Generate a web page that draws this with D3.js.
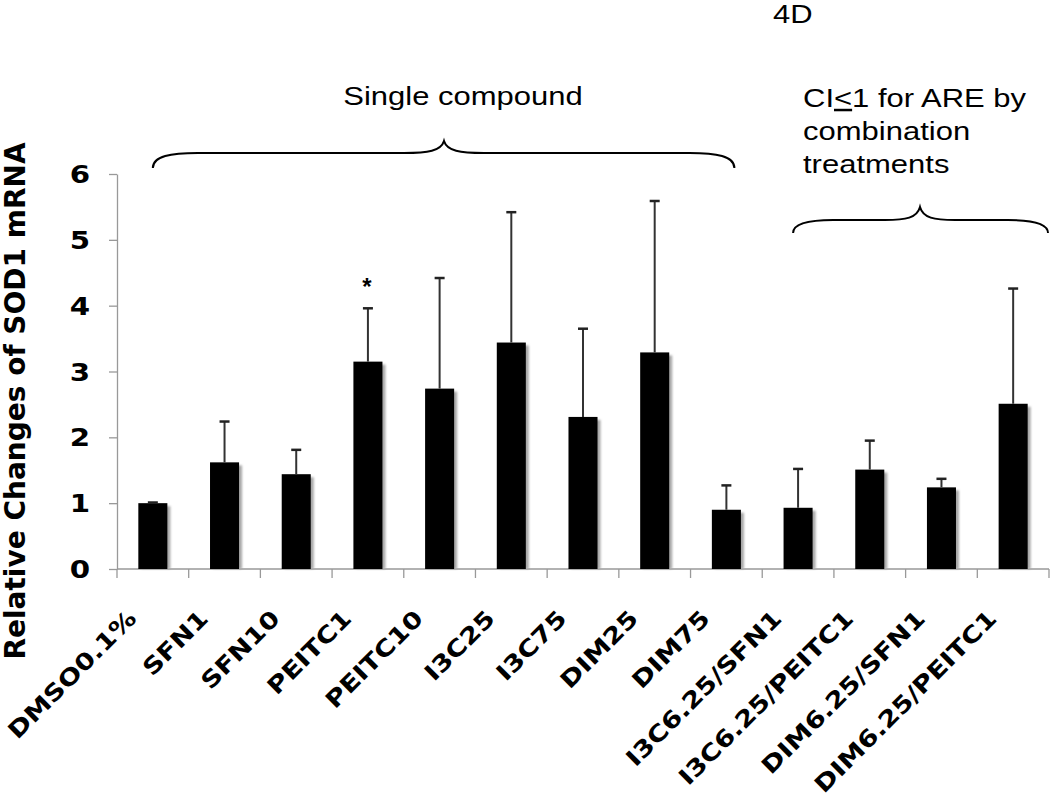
<!DOCTYPE html>
<html>
<head>
<meta charset="utf-8">
<script src="https://cdn.jsdelivr.net/npm/d3@7"></script>
<style>
  html, body { margin: 0; padding: 0; background: #fff; }
  svg { display: block; }
</style>
</head>
<body>
<svg id="chart" width="1050" height="807"></svg>
<script>
// ---- data ----
const categories = ["DMSO0.1%", "SFN1", "SFN10", "PEITC1", "PEITC10", "I3C25", "I3C75", "DIM25", "DIM75",
  "I3C6.25/SFN1", "I3C6.25/PEITC1", "DIM6.25/SFN1", "DIM6.25/PEITC1"];
const means = [1.00, 1.62, 1.44, 3.15, 2.74, 3.44, 2.31, 3.29, 0.90, 0.93, 1.51, 1.24, 2.51];
const errors = [0.01, 0.62, 0.37, 0.81, 1.68, 1.98, 1.34, 2.30, 0.37, 0.59, 0.44, 0.13, 1.75];
const significance = ["", "", "", "*", "", "", "", "", "", "", "", "", ""];
const yTicks = [0, 1, 2, 3, 4, 5, 6];
const yTitle = "Relative Changes of SOD1 mRNA";
const panelLabel = "4D";
const groupSingle = "Single compound";
const groupComboLines = ["CI\u22641 for ARE by", "combination", "treatments"];

// ---- layout ----
const svg = d3.select("#chart");
const plotLeft = 117, plotRight = 1049, plotTop = 174, plotBottom = 569;

const x = d3.scaleBand().domain(categories).range([plotLeft, plotRight])
  .paddingInner(0.595).paddingOuter(0.2975);
const y = d3.scaleLinear().domain([0, 6]).range([plotBottom, plotTop]);
const step = x.step();
const cx = d => x(d) + x.bandwidth() / 2;

const defs = svg.append("defs");
defs.append("filter").attr("id", "blur").append("feGaussianBlur").attr("stdDeviation", 1);

// y axis
const yAxis = svg.append("g").attr("transform", `translate(${plotLeft},0)`)
  .call(d3.axisLeft(y).tickValues(yTicks).tickSize(8).tickSizeOuter(0).tickPadding(19).tickFormat(d3.format("d")));
yAxis.select(".domain").attr("stroke", "#999").attr("stroke-width", 1.3);
yAxis.selectAll(".tick line").attr("stroke", "#999").attr("stroke-width", 1.3);
yAxis.selectAll(".tick text")
  .attr("x", null).attr("dy", "0.36em")
  .attr("transform", `translate(-27,0) scale(1.22,1)`)
  .attr("font-family", "DejaVu Sans").attr("font-weight", "bold").attr("font-size", 24).attr("fill", "#000");

// x axis baseline + boundary ticks
const xAxisG = svg.append("g");
xAxisG.append("line").attr("x1", plotLeft).attr("x2", plotRight).attr("y1", y(0)).attr("y2", y(0))
  .attr("stroke", "#999").attr("stroke-width", 1.3);
const boundaries = categories.map(d => cx(d) - step / 2).concat([cx(categories[categories.length - 1]) + step / 2]);
xAxisG.selectAll("line.tk").data(boundaries).join("line").attr("class", "tk")
  .attr("x1", d => d).attr("x2", d => d).attr("y1", y(0)).attr("y2", y(0) + 9)
  .attr("stroke", "#999").attr("stroke-width", 1.3);

// x labels (rotated 45°, widened along the baseline like the original lettering)
svg.append("g").selectAll("g.xl").data(categories).join("g").attr("class", "xl")
  .attr("transform", d => `translate(${cx(d) - 15},620) rotate(-45) scale(1.2,1)`)
  .append("text").attr("text-anchor", "end")
  .attr("font-family", "DejaVu Sans").attr("font-weight", "bold").attr("font-size", 23)
  .text(d => d);

// bars
const data = categories.map((c, i) => ({ c, m: means[i], e: errors[i], s: significance[i] }));
svg.append("g").selectAll("rect.sh").data(data).join("rect").attr("class", "sh")
  .attr("x", d => x(d.c) + 3).attr("y", d => y(d.m) + 3)
  .attr("width", x.bandwidth()).attr("height", d => y(0) - y(d.m) - 3)
  .attr("fill", "#a8a8a8").attr("filter", "url(#blur)");
svg.append("g").selectAll("rect.bar").data(data).join("rect").attr("class", "bar")
  .attr("x", d => x(d.c)).attr("y", d => y(d.m))
  .attr("width", x.bandwidth()).attr("height", d => y(0) - y(d.m))
  .attr("fill", "#000");

// error bars
const eg = svg.append("g");
eg.selectAll("line.ev").data(data).join("line").attr("class", "ev")
  .attr("x1", d => cx(d.c)).attr("x2", d => cx(d.c))
  .attr("y1", d => y(d.m)).attr("y2", d => y(d.m + d.e))
  .attr("stroke", "#333").attr("stroke-width", 2);
eg.selectAll("line.cap").data(data).join("line").attr("class", "cap")
  .attr("x1", d => cx(d.c) - 5).attr("x2", d => cx(d.c) + 5)
  .attr("y1", d => y(d.m + d.e)).attr("y2", d => y(d.m + d.e))
  .attr("stroke", "#222").attr("stroke-width", 2.5);

// significance
svg.append("g").selectAll("text.sig").data(data.filter(d => d.s)).join("text").attr("class", "sig")
  .attr("x", d => cx(d.c) - 1).attr("y", d => y(d.m + d.e) - 13)
  .attr("text-anchor", "middle").attr("font-family", "Liberation Sans").attr("font-weight", "bold")
  .attr("font-size", 24).text(d => d.s);

// y title
svg.append("text").attr("transform", `translate(25,401) rotate(-90)`)
  .attr("text-anchor", "middle").attr("font-family", "DejaVu Sans").attr("font-weight", "bold")
  .attr("font-size", 28).text(yTitle);

// text helper (stretched sans)
function stext(tx, ty, anchor) {
  return svg.append("text").attr("transform", `translate(${tx},${ty}) scale(1.24,1)`)
    .attr("text-anchor", anchor).attr("font-family", "Liberation Sans").attr("font-size", 25).attr("fill", "#000");
}
stext(773, 23, "start").text(panelLabel);
stext(463, 105, "middle").text(groupSingle);
groupComboLines.forEach((t, i) => {
  const el = stext(803, 107 + i * 33, "start");
  if (t.indexOf("\u2264") >= 0) {
    const parts = t.split("\u2264");
    el.append("tspan").text(parts[0]);
    el.append("tspan").attr("text-decoration", "underline").style("text-decoration", "underline").text("<");
    el.append("tspan").text(parts[1]);
  } else el.text(t);
});

// braces
function brace(x0, x1, xt, yEnd, yLine, yTip, endW, tipW) {
  const p = d3.path();
  p.moveTo(x0, yEnd);
  p.bezierCurveTo(x0, yLine + 3, x0 + endW * 0.4, yLine, x0 + endW, yLine);
  p.lineTo(xt - tipW, yLine);
  p.bezierCurveTo(xt - tipW * 0.4, yLine, xt - 3, yLine - 2, xt, yTip);
  p.bezierCurveTo(xt + 3, yLine - 2, xt + tipW * 0.4, yLine, xt + tipW, yLine);
  p.lineTo(x1 - endW, yLine);
  p.bezierCurveTo(x1 - endW * 0.4, yLine, x1, yLine + 3, x1, yEnd);
  svg.append("path").attr("d", p.toString()).attr("fill", "none").attr("stroke", "#000").attr("stroke-width", 2);
}
brace(cx(categories[0]), cx(categories[8]) + 8, 444, 168, 153, 141, 45, 40);
brace(cx(categories[9]) - 5, plotRight - 1, 920, 233, 220, 207, 40, 35);
</script>
</body>
</html>
